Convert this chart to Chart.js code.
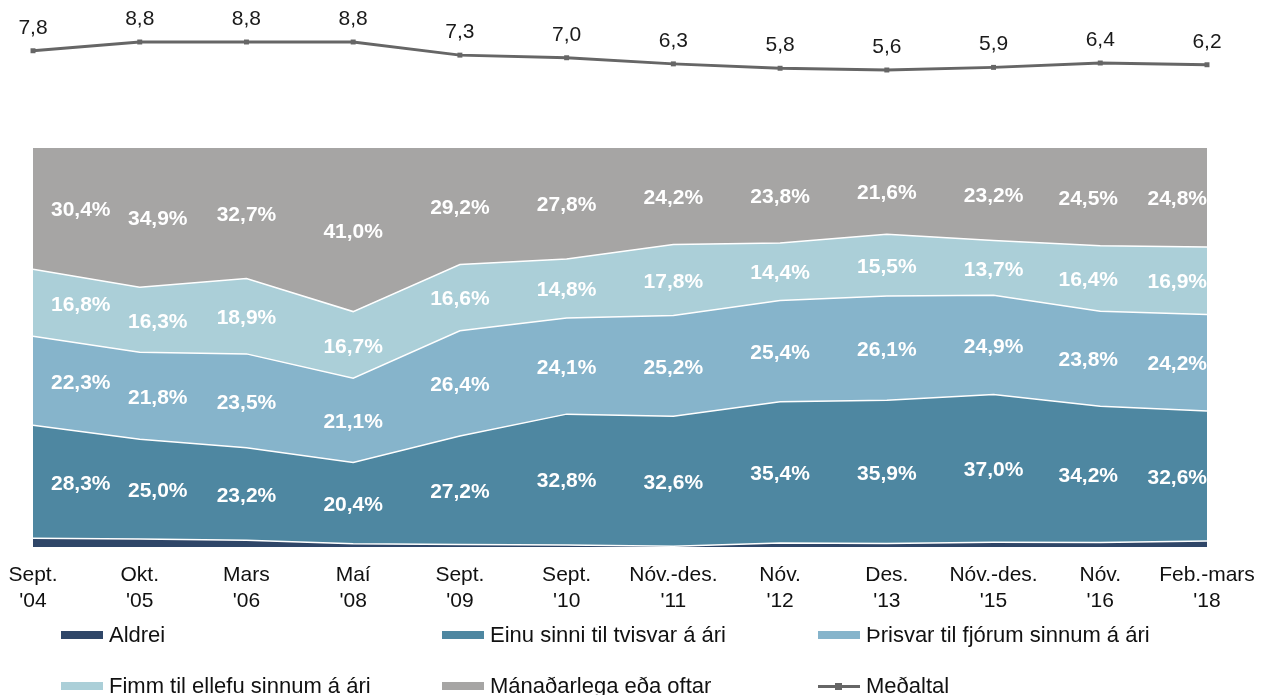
<!DOCTYPE html>
<html>
<head>
<meta charset="utf-8">
<script src="https://cdn.jsdelivr.net/npm/chart.js@4.4.1/dist/chart.umd.min.js"></script>
<style>
    html, body { margin: 0; padding: 0; background: #fff; }
    #wrap { position: relative; width: 1266px; height: 695px; }
    #legend { position: absolute; left: 0; top: 0; width: 1266px; height: 695px; pointer-events: none;
        font-family: "Liberation Sans", Arial, sans-serif; font-size: 22px; color: #111; }
    .item { position: absolute; display: flex; align-items: center; height: 26px; }
    .swatch { width: 42px; height: 8px; margin-right: 6px; }
    .lineSwatch { position: relative; width: 42px; height: 3px; margin-right: 6px; background: #666; }
    .lineSwatch span { position: absolute; left: 17px; top: -2px; width: 7px; height: 7px; background: #666; }
</style>
</head>
<body>
<div id="wrap">
    <canvas id="chart" width="1266" height="695"></canvas>
    <div id="legend"></div>
</div>
<script>
const labels = [
    ["Sept.", "'04"], ["Okt.", "'05"], ["Mars", "'06"], ["Maí", "'08"],
    ["Sept.", "'09"], ["Sept.", "'10"], ["Nóv.-des.", "'11"], ["Nóv.", "'12"],
    ["Des.", "'13"], ["Nóv.-des.", "'15"], ["Nóv.", "'16"], ["Feb.-mars", "'18"]
];

const aldrei = [2.2, 2.0, 1.7, 0.8, 0.6, 0.5, 0.2, 1.0, 0.9, 1.2, 1.1, 1.5];
const einuSinni = [28.3, 25.0, 23.2, 20.4, 27.2, 32.8, 32.6, 35.4, 35.9, 37.0, 34.2, 32.6];
const thrisvar = [22.3, 21.8, 23.5, 21.1, 26.4, 24.1, 25.2, 25.4, 26.1, 24.9, 23.8, 24.2];
const fimm = [16.8, 16.3, 18.9, 16.7, 16.6, 14.8, 17.8, 14.4, 15.5, 13.7, 16.4, 16.9];
const manadarlega = [30.4, 34.9, 32.7, 41.0, 29.2, 27.8, 24.2, 23.8, 21.6, 23.2, 24.5, 24.8];
const medaltal = [7.8, 8.8, 8.8, 8.8, 7.3, 7.0, 6.3, 5.8, 5.6, 5.9, 6.4, 6.2];

const areaSeries = [
    { label: "Aldrei", data: aldrei, color: "#2f4668", showLabels: false },
    { label: "Einu sinni til tvisvar á ári", data: einuSinni, color: "#4e87a1", showLabels: true },
    { label: "Þrisvar til fjórum sinnum á ári", data: thrisvar, color: "#86b4cb", showLabels: true },
    { label: "Fimm til ellefu sinnum á ári", data: fimm, color: "#abcfd8", showLabels: true },
    { label: "Mánaðarlega eða oftar", data: manadarlega, color: "#a6a5a4", showLabels: true }
];

const FONT = '"Liberation Sans", Arial, sans-serif';
// small horizontal nudges for the percentage labels, as in the original
const labelNudge = [0, 18, 0, 0, 0, 0, 0, 0, 0, 0, -12, 0];

function fmt(v) {
    return v.toFixed(1).replace(".", ",");
}

const areaLabelsPlugin = {
    id: "areaLabels",
    afterDatasetsDraw: (chart) => {
        const ctx = chart.ctx;
        const yScale = chart.scales.y;
        const xScale = chart.scales.x;
        const last = labels.length - 1;

        ctx.save();
        ctx.font = "bold 21px " + FONT;
        ctx.fillStyle = "#ffffff";
        ctx.textBaseline = "middle";

        labels.forEach((lab, i) => {
            let cum = 0;
            areaSeries.forEach((s) => {
                const v = s.data[i];
                if (s.showLabels) {
                    const yMid = (yScale.getPixelForValue(cum) + yScale.getPixelForValue(cum + v)) / 2 + 2;
                    let x = xScale.getPixelForValue(i) + labelNudge[i];
                    if (i === 0) {
                        ctx.textAlign = "left";
                        x += 18;
                    } else if (i === last) {
                        ctx.textAlign = "right";
                    } else {
                        ctx.textAlign = "center";
                    }
                    ctx.fillText(fmt(v) + "%", x, yMid);
                }
                cum += v;
            });
        });

        // average line values
        const lineMeta = chart.getDatasetMeta(areaSeries.length);
        ctx.font = "21px " + FONT;
        ctx.fillStyle = "#1a1a1a";
        ctx.textAlign = "center";
        ctx.textBaseline = "alphabetic";
        lineMeta.data.forEach((pt, i) => {
            ctx.fillText(fmt(medaltal[i]), pt.x, pt.y - 17);
        });
        ctx.restore();
    },
};

const datasets = areaSeries.map((s, i) => ({
    type: "line",
    label: s.label,
    data: s.data,
    yAxisID: "y",
    backgroundColor: s.color,
    borderColor: "#ffffff",
    borderWidth: i === areaSeries.length - 1 ? 0 : 1.5,
    fill: i === 0 ? "origin" : "-1",
    pointRadius: 0,
    tension: 0,
    order: 2,
}));

datasets.push({
    type: "line",
    label: "Meðaltal",
    data: medaltal,
    yAxisID: "y2",
    borderColor: "#666666",
    backgroundColor: "#666666",
    borderWidth: 3,
    pointStyle: "rect",
    pointRadius: 3.5,
    pointBorderWidth: 0,
    fill: false,
    tension: 0,
    order: 1,
});

// plot area runs from y=10 to y=547; stacked area occupies 148..547
const PLOT_TOP = 10, PLOT_BOTTOM = 547, AREA_TOP = 148;
const yMax = 100 * (PLOT_BOTTOM - PLOT_TOP) / (PLOT_BOTTOM - AREA_TOP);
const pxPerUnit = 8.75;
const lineRange = (PLOT_BOTTOM - PLOT_TOP) / pxPerUnit;
const y2Min = 8.8 - (PLOT_BOTTOM - 42) / pxPerUnit;

new Chart(document.getElementById("chart").getContext("2d"), {
    type: "line",
    data: { labels, datasets },
    options: {
        responsive: false,
        animation: false,
        layout: {
            autoPadding: false,
            padding: { left: 33, right: 59, top: PLOT_TOP, bottom: 695 - PLOT_BOTTOM - 64 },
        },
        plugins: {
            legend: { display: false },
            tooltip: { enabled: false },
        },
        scales: {
            x: {
                offset: false,
                grid: { display: false, drawTicks: false },
                border: { display: false },
                ticks: {
                    color: "#111",
                    font: { family: FONT, size: 21 },
                    padding: 16,
                    maxRotation: 0,
                    autoSkip: false,
                },
                afterFit: (scale) => {
                    scale.height = 64;
                    scale.paddingLeft = 0;
                    scale.paddingRight = 0;
                },
            },
            y: {
                display: false,
                stacked: true,
                min: 0,
                max: yMax,
            },
            y2: {
                display: false,
                min: y2Min,
                max: y2Min + lineRange,
            },
        },
    },
    plugins: [areaLabelsPlugin],
});

// legend, three columns
const legendItems = areaSeries.map((s) => ({ label: s.label, color: s.color }))
    .concat([{ label: "Meðaltal", line: true }]);
const colX = [61, 442, 818];
const rowY = [622, 673];
const legendEl = document.getElementById("legend");
legendItems.forEach((item, i) => {
    const div = document.createElement("div");
    div.className = "item";
    div.style.left = colX[i % 3] + "px";
    div.style.top = rowY[Math.floor(i / 3)] + "px";
    const sw = document.createElement("div");
    if (item.line) {
        sw.className = "lineSwatch";
        sw.appendChild(document.createElement("span"));
    } else {
        sw.className = "swatch";
        sw.style.background = item.color;
    }
    div.appendChild(sw);
    const txt = document.createElement("span");
    txt.textContent = item.label;
    div.appendChild(txt);
    legendEl.appendChild(div);
});
</script>
</body>
</html>
